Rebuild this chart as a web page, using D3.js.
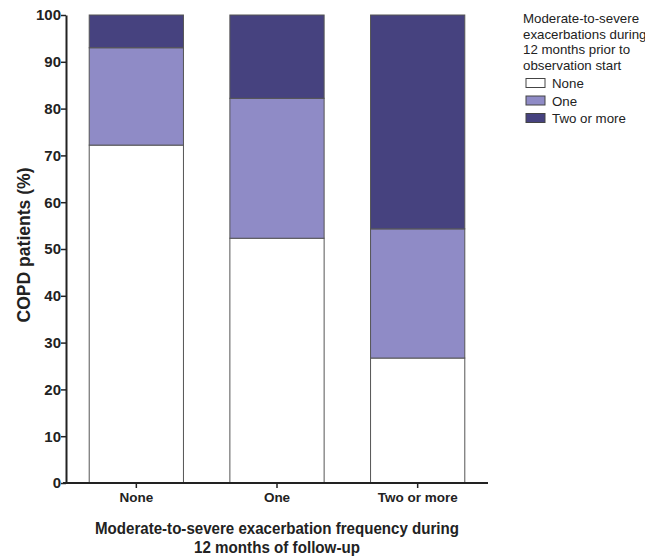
<!DOCTYPE html>
<html>
<head>
<meta charset="utf-8">
<script src="https://cdn.jsdelivr.net/npm/d3@7"></script>
<style>
  body { margin: 0; background: #fff; }
  text { font-family: "Liberation Sans", Arial, sans-serif; }
</style>
</head>
<body>
<div id="chart"></div>
<script>
// data
var categories = ['None', 'One', 'Two or more'];
var seriesNames = ['None', 'One', 'Two or more'];
var noneVals = [72.2, 52.3, 26.7];
var oneVals = [20.8, 29.9, 27.6];
var twoVals = [7.0, 17.8, 45.7];
var yTicks = [0, 10, 20, 30, 40, 50, 60, 70, 80, 90, 100];
var colors = ['#ffffff', '#8f8bc6', '#46427f'];

var svgWidth = 645, svgHeight = 557;
var margins = { top: 15, left: 66, right: 157, bottom: 74 };
var width = svgWidth - margins.left - margins.right;
var height = svgHeight - margins.top - margins.bottom;

var svg = d3.select('#chart').append('svg').attr('width', svgWidth).attr('height', svgHeight);
var chart = svg.append('g').attr('transform', `translate(${margins.left}, ${margins.top})`);

var rows = categories.map(function(c, i) {
	return { cat: c, None: noneVals[i], One: oneVals[i], 'Two or more': twoVals[i] };
});
var stack = d3.stack().keys(seriesNames)(rows);

var xaxis = d3.scaleBand().domain(categories).range([0, width]).paddingInner(0.33).paddingOuter(0.165);
var yaxis = d3.scaleLinear().domain([0, 100]).range([height, 0]);

// bars
chart.selectAll('g.layer')
	.data(stack)
	.enter()
	.append('g')
	.attr('class', 'layer')
	.attr('fill', (d, i) => colors[i])
	.selectAll('rect')
	.data(d => d)
	.enter()
	.append('rect')
	.attr('x', d => xaxis(d.data.cat))
	.attr('y', d => yaxis(d[1]))
	.attr('width', xaxis.bandwidth())
	.attr('height', d => yaxis(d[0]) - yaxis(d[1]))
	.attr('stroke', '#555')
	.attr('stroke-width', 1);

// axes
var leftAxis = d3.axisLeft(yaxis).tickValues(yTicks).tickSize(5).tickSizeOuter(0);
var bottomAxis = d3.axisBottom(xaxis).tickSize(5).tickSizeOuter(0);

var gy = chart.append('g').call(leftAxis);
var gx = chart.append('g').attr('transform', `translate(0, ${height})`).call(bottomAxis);

[gy, gx].forEach(function(g) {
	g.select('.domain').attr('stroke', '#222').attr('stroke-width', 2);
	g.selectAll('.tick line').attr('stroke', '#222').attr('stroke-width', 1.5);
	g.selectAll('.tick text')
		.attr('font-family', '"Liberation Sans", Arial, sans-serif')
		.attr('font-weight', 'bold')
		.attr('font-size', '13.5px')
		.attr('fill', '#222');
});
gy.selectAll('.tick text').attr('x', -5).attr('font-size', '15px');
gx.selectAll('.tick text').attr('y', 9);
gx.select('.domain').attr('d', `M-3,0H${width}`);

// axis labels
chart.append('text')
	.attr('transform', `translate(-36, ${height / 2 - 4}) rotate(-90)`)
	.attr('text-anchor', 'middle')
	.attr('font-weight', 'bold')
	.attr('font-size', '17.5px')
	.attr('fill', '#222')
	.attr('textLength', 155)
	.attr('lengthAdjust', 'spacingAndGlyphs')
	.text('COPD patients (%)');

var xTitle = chart.append('text')
	.attr('text-anchor', 'middle')
	.attr('font-weight', 'bold')
	.attr('font-size', '16.5px')
	.attr('fill', '#222');
xTitle.append('tspan').attr('x', width / 2).attr('y', height + 51)
	.attr('textLength', 364).attr('lengthAdjust', 'spacingAndGlyphs')
	.text('Moderate-to-severe exacerbation frequency during');
xTitle.append('tspan').attr('x', width / 2).attr('y', height + 70)
	.attr('textLength', 166).attr('lengthAdjust', 'spacingAndGlyphs')
	.text('12 months of follow-up');

// legend
var legend = svg.append('g').attr('transform', 'translate(523, 0)');
var titleLines = ['Moderate-to-severe', 'exacerbations during', '12 months prior to', 'observation start'];
legend.selectAll('text.title')
	.data(titleLines)
	.enter()
	.append('text')
	.attr('class', 'title')
	.attr('x', 0)
	.attr('y', (d, i) => 23 + i * 15.5)
	.attr('font-size', '13.3px')
	.attr('fill', '#222')
	.text(d => d);

var items = legend.selectAll('g.item')
	.data(seriesNames)
	.enter()
	.append('g')
	.attr('class', 'item')
	.attr('transform', (d, i) => `translate(3, ${83 + i * 17.5})`);
items.append('rect')
	.attr('x', 0)
	.attr('y', -4.5)
	.attr('width', 19)
	.attr('height', 9)
	.attr('fill', (d, i) => colors[i])
	.attr('stroke', '#444')
	.attr('stroke-width', 1);
items.append('text')
	.attr('x', 26)
	.attr('y', 5)
	.attr('font-size', '13.3px')
	.attr('fill', '#222')
	.text(d => d);
</script>
</body>
</html>
